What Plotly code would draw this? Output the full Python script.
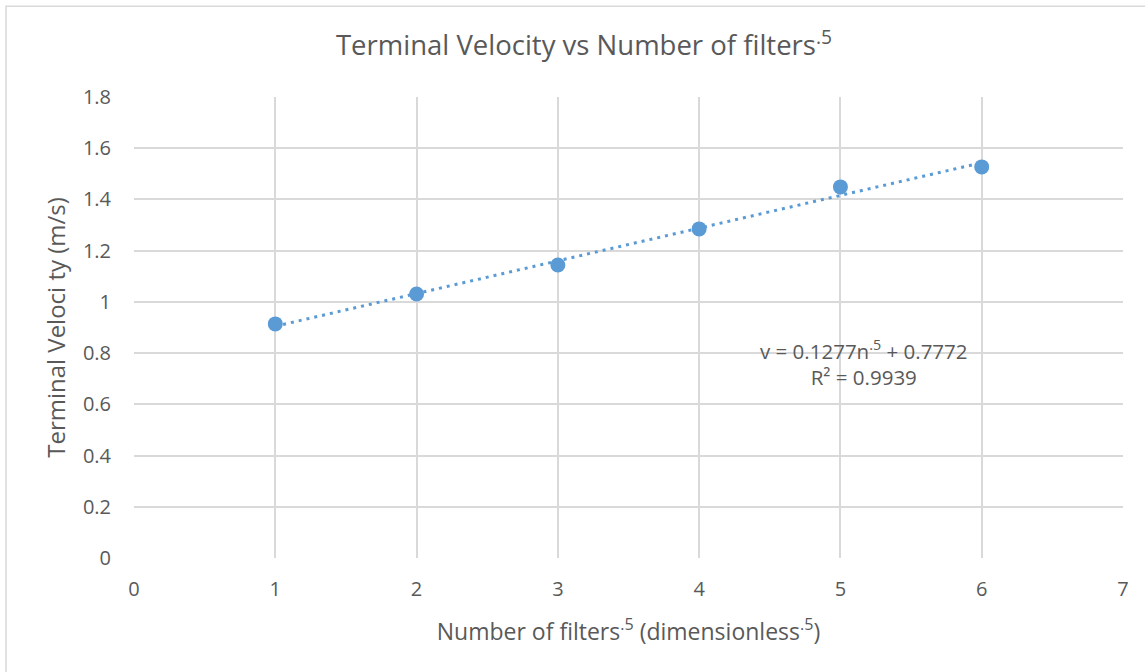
import plotly.graph_objects as go

filters_sqrt = [1, 2, 3, 4, 5, 6]
velocity = [0.914, 1.031, 1.144, 1.285, 1.449, 1.527]
slope, intercept = 0.1277, 0.7772
eq_text = "v = 0.1277n<sup>.5</sup> + 0.7772<br>R² = 0.9939"

x_tick_vals = [0, 1, 2, 3, 4, 5, 6, 7]
y_tick_vals = [0, 0.2, 0.4, 0.6, 0.8, 1, 1.2, 1.4, 1.6, 1.8]
y_tick_text = ["0", "0.2", "0.4", "0.6", "0.8", "1", "1.2", "1.4", "1.6", "1.8"]

blue = "#5b9bd5"
txt = "#595959"
grid = "#d9d9d9"
font = "Open Sans"

trend_x = [filters_sqrt[0], filters_sqrt[-1]]
trend_y = [slope * v + intercept for v in trend_x]

fig = go.Figure()
fig.add_trace(go.Scatter(x=trend_x, y=trend_y, mode="lines",
                         line=dict(color=blue, width=3, dash="3px,5px"),
                         hoverinfo="skip", showlegend=False))
fig.add_trace(go.Scatter(x=filters_sqrt, y=velocity, mode="markers",
                         marker=dict(color=blue, size=15),
                         showlegend=False))

fig.update_layout(
    width=1145, height=672,
    paper_bgcolor="white", plot_bgcolor="white",
    margin=dict(l=134, r=22, t=97, b=114),
    font=dict(family=font, color=txt, size=18),
    title=dict(text="Terminal Velocity vs Number of filters<sup>.5</sup>",
               x=0.455, xref="paper", xanchor="center", y=0.932, yanchor="middle",
               font=dict(size=27.5, color=txt, family=font)),
    xaxis=dict(range=[0, 7], tickvals=x_tick_vals, showgrid=True, gridcolor=grid, gridwidth=1.5,
               zeroline=False, showline=False, ticks="", ticklabelstandoff=17,
               title=dict(text="Number of filters<sup>.5</sup> (dimensionless<sup>.5</sup>)",
                          font=dict(size=23, color=txt), standoff=22),
               tickfont=dict(size=20, color=txt)),
    yaxis=dict(range=[0, 1.8], tickvals=y_tick_vals, ticktext=y_tick_text, showgrid=True,
               gridcolor=grid, gridwidth=1.5, zeroline=False, showline=False, ticks="",
               ticklabelstandoff=22,
               title=dict(text="Terminal Veloci ty (m/s)", font=dict(size=24, color=txt), standoff=10),
               tickfont=dict(size=20, color=txt)),
    shapes=[dict(type="rect", xref="paper", yref="paper",
                 x0=-0.1294, x1=1.03, y0=-0.26, y1=1.197,
                 line=dict(color=grid, width=1.5), layer="below")],
    annotations=[dict(x=5.17, y=0.76, xref="x", yref="y", text=eq_text, showarrow=False,
                      align="center", font=dict(size=20.5, color=txt))],
)

fig.write_html("out.html", config={"displayModeBar": False},
               post_script="document.body.style.margin='0';document.body.style.overflow='hidden';")
